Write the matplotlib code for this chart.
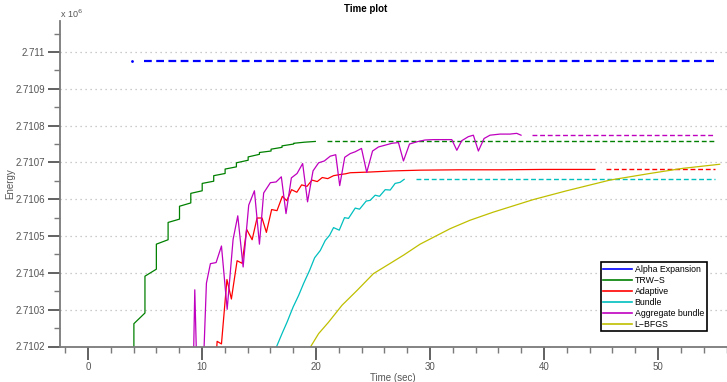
import numpy as np
import matplotlib.pyplot as plt
from matplotlib.ticker import MultipleLocator, FuncFormatter

plt.rcParams['font.family'] = ['Liberation Sans', 'DejaVu Sans']

# ===== DATA =====
t_final = 55.0

time_alpha = [3.9]
energy_alpha = [2710976]

time_trws = [4.03, 4.03, 5.0, 5.0, 6.0, 6.0, 7.03, 7.03, 8.03, 8.03, 9.02, 9.02,
             10.02, 10.02, 11.03, 11.03, 12.03, 12.03, 13.02, 13.02, 14.05, 14.05,
             15.04, 15.04, 16.06, 16.06, 17.02, 17.02, 18.04, 18.04, 19.0, 19.94]
energy_trws = [2710100, 2710262, 2710291, 2710391, 2710410, 2710478, 2710490, 2710537,
               2710546, 2710581, 2710590, 2710616, 2710623, 2710643, 2710649, 2710664,
               2710670, 2710682, 2710688, 2710699, 2710706, 2710715, 2710722, 2710727,
               2710731, 2710736, 2710741, 2710745, 2710750, 2710752, 2710755, 2710757]

time_adaptive = [11.2, 11.33, 11.71, 12.19, 12.58, 13.08, 13.52, 13.92, 14.4, 14.83,
                 15.27, 15.65, 16.11, 16.58, 17.05, 17.44, 17.86, 18.32, 18.74, 19.21,
                 19.65, 20.11, 20.55, 21.03, 21.54, 22.08, 22.57, 23.0, 24.75, 26.77,
                 29.14, 32.6, 36.1, 40.0, 44.46]
energy_adaptive = [2710150, 2710214, 2710207, 2710382, 2710329, 2710433, 2710426, 2710518,
                   2710490, 2710549, 2710549, 2710510, 2710572, 2710569, 2710608, 2710596,
                   2710626, 2710619, 2710639, 2710635, 2710652, 2710648, 2710659, 2710656,
                   2710664, 2710667, 2710669, 2710672, 2710674, 2710677, 2710679, 2710680,
                   2710680, 2710681, 2710681]

time_bundle = [16.52, 17.02, 17.46, 17.99, 18.48, 18.91, 19.44, 19.88, 20.38, 20.81,
               21.19, 21.54, 22.04, 22.5, 22.85, 23.44, 23.82, 24.4, 24.75, 25.19,
               25.57, 26.07, 26.51, 26.94, 27.38, 27.73]
energy_bundle = [2710198, 2710235, 2710266, 2710307, 2710339, 2710371, 2710407, 2710441,
                 2710461, 2710488, 2710502, 2710523, 2710516, 2710550, 2710548, 2710576,
                 2710573, 2710595, 2710597, 2710611, 2710608, 2710626, 2710625, 2710643,
                 2710646, 2710654]

time_aggregate = [9.22, 9.37, 9.58, 10.07, 10.39, 10.74, 11.24, 11.71, 12.21, 12.73,
                  13.14, 13.61, 14.10, 14.60, 15.04, 15.41, 16.0, 16.5, 16.96, 17.37,
                  17.84, 18.34, 18.83, 19.26, 19.74, 20.23, 20.73, 21.25, 21.73, 22.08,
                  22.52, 23.0, 23.44, 23.99, 24.45, 24.96, 25.48, 26.07, 26.66, 27.23,
                  27.67, 28.2, 28.84, 29.57, 30.3, 31.17, 31.91, 32.35, 32.78, 33.36,
                  33.8, 34.24, 34.74, 35.26, 36.14, 37.01, 37.6, 37.98]
energy_aggregate = [2710100, 2710354, 2710100, 2710100, 2710372, 2710425, 2710428, 2710473,
                    2710301, 2710491, 2710555, 2710416, 2710584, 2710623, 2710478, 2710617,
                    2710645, 2710647, 2710661, 2710561, 2710658, 2710670, 2710697, 2710593,
                    2710677, 2710699, 2710704, 2710717, 2710721, 2710637, 2710714, 2710724,
                    2710729, 2710738, 2710673, 2710731, 2710742, 2710747, 2710752, 2710754,
                    2710704, 2710750, 2710756, 2710761, 2710762, 2710762, 2710762, 2710733,
                    2710759, 2710770, 2710774, 2710731, 2710765, 2710774, 2710777, 2710777,
                    2710779, 2710774]

time_lbfgs = [19.5, 20.23, 21.1, 22.28, 23.59, 25.04, 26.36, 27.67, 29.13, 31.76,
              33.51, 35.55, 39.05, 41.98, 45.77, 49.28, 52.19, 55.4]
energy_lbfgs = [2710198, 2710235, 2710266, 2710312, 2710352, 2710398, 2710423, 2710448,
                2710478, 2710520, 2710543, 2710565, 2710599, 2710623, 2710652, 2710670,
                2710684, 2710695]

methods = [
    ("Alpha Expansion", time_alpha, energy_alpha, (0, 0, 1)),
    ("TRW\u2212S", time_trws, energy_trws, (0, 0.5, 0)),
    ("Adaptive", time_adaptive, energy_adaptive, (1, 0, 0)),
    ("Bundle", time_bundle, energy_bundle, (0, 0.75, 0.75)),
    ("Aggregate bundle", time_aggregate, energy_aggregate, (0.75, 0, 0.75)),
    ("L\u2212BFGS", time_lbfgs, energy_lbfgs, (0.75, 0.75, 0)),
]

# ===== PLOT =====
fig = plt.figure(figsize=(7.27, 3.82), dpi=100)
ax = fig.add_axes([60 / 727, 35.5 / 382, 666.5 / 727, 325.8 / 382])

axis_grey = '#7a7a7a'
text_grey = '#555555'

for name, t, e, col in methods:
    t = np.asarray(t)
    e = np.asarray(e) / 1e6
    if len(t) == 1:
        ax.plot(t, e, '.', color=col, ms=2, label=name)
    else:
        ax.plot(t, e, '-', color=col, lw=0.9, label=name)
    # hold the final energy until the end of the run
    if t[-1] < t_final - 1:
        lw = 1.6 if len(t) == 1 else 1.0
        ax.plot([t[-1] + 1, t_final], [e[-1], e[-1]], color=col, lw=lw,
                dashes=(3.5, 2.0))

ax.set_xlim(-2.45, 56)
ax.set_ylim(2.7102, 2.711085)

ax.xaxis.set_major_locator(MultipleLocator(10))
ax.xaxis.set_minor_locator(MultipleLocator(2))
ax.yaxis.set_major_locator(MultipleLocator(0.0001))
ax.yaxis.set_minor_locator(MultipleLocator(0.00005))
ax.yaxis.set_major_formatter(FuncFormatter(lambda v, p: f"{v:.4f}".rstrip('0')))

ax.grid(axis='y', which='major', color='#bbbbbb', linestyle=(0, (1, 3)), lw=0.9)

for side in ('top', 'right'):
    ax.spines[side].set_visible(False)
for side in ('left', 'bottom'):
    ax.spines[side].set_color(axis_grey)
    ax.spines[side].set_linewidth(1.3)

ax.tick_params(which='major', direction='out', length=9, width=1.3,
               color='#555555', labelsize=7, labelcolor=text_grey, pad=2)
ax.tick_params(which='minor', direction='out', length=4.5, width=1.0,
               color=axis_grey)

ax.set_xlabel("Time (sec)", fontsize=7, color=text_grey, labelpad=1)
ax.set_ylabel("Energy", fontsize=7, color=text_grey, labelpad=0)
ax.set_title("Time plot", fontsize=7, fontweight='bold', pad=6, x=0.458)
fig.text(60 / 727, 1 - 14 / 382, r"x 10$^6$", fontsize=6.5, color=text_grey,
         va='center', ha='left')

leg = ax.legend(loc='upper left', bbox_to_anchor=(0.811, 0.258), borderaxespad=0,
                fontsize=6.3, handlelength=3.3, handletextpad=0.3, labelspacing=0.22,
                borderpad=0.3, fancybox=False, framealpha=1)
leg.get_frame().set_edgecolor('black')
leg.get_frame().set_linewidth(1.2)
for h in leg.legend_handles:
    h.set_linestyle('-')
    h.set_marker('')
    h.set_linewidth(1.2)

fig.savefig("out.png", dpi=100)
